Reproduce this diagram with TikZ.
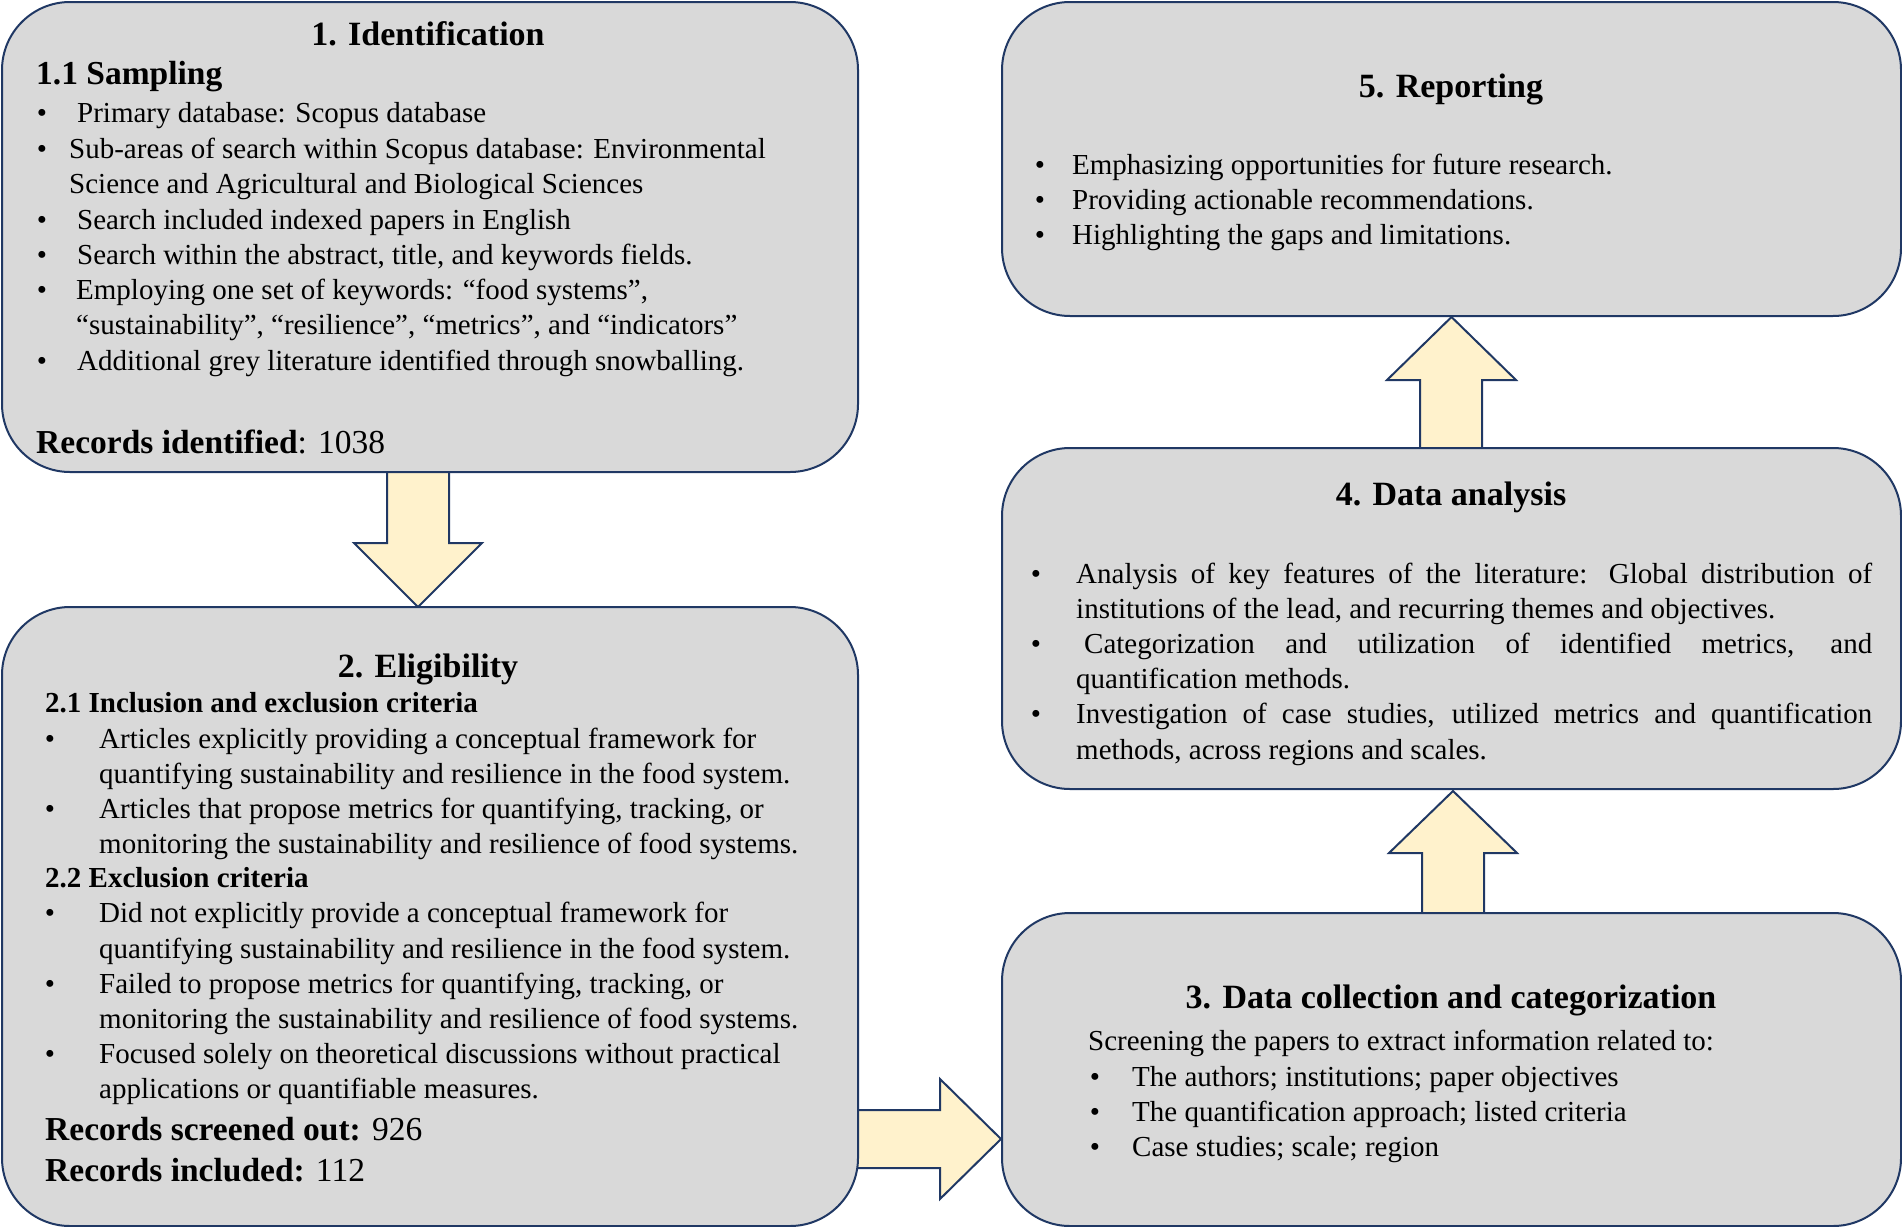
\documentclass[tikz,border=0pt]{standalone}
\usepackage{fontspec}
\setmainfont{Liberation Serif}
\usetikzlibrary{calc}
\pgfdeclarelayer{background}
\pgfsetlayers{background,main}
\definecolor{boxfill}{HTML}{D9D9D9}
\definecolor{boxline}{RGB}{32,56,100}
\definecolor{arrfill}{HTML}{FFF2CC}
\tikzset{
 box/.style={draw=boxline, line width=2pt, fill=boxfill, rounded corners=68pt, anchor=north west, inner sep=0},
 blk/.style={draw=boxline, line width=2pt, fill=arrfill, line join=miter},
 txt/.style={anchor=base west, inner sep=0, font=\fontsize{29}{35}\selectfont},
 bul/.style={anchor=base, inner sep=0, font=\fontsize{29}{35}\selectfont},
 ttl/.style={anchor=base, inner sep=0, font=\fontsize{34}{40}\selectfont\bfseries},
 subh/.style={anchor=base west, inner sep=0, font=\fontsize{29}{35}\selectfont\bfseries},
 rec/.style={anchor=base west, inner sep=0, font=\fontsize{33.5}{40}\selectfont},
}
\newcommand\txtline[4]{\node[txt] (#1) at (#2,#3) {#4};}
\newcommand\bulpt[3]{\node[bul] (#1) at (#2,#3) {•};}
\begin{document}
\begin{tikzpicture}[x=1pt,y=-1pt]
\useasboundingbox (0,0) rectangle (1902,1226);
% boxes
\node[box, minimum width=856, minimum height=470] (b1) at (1,1) {};
\node[box, minimum width=856, minimum height=619] (b2) at (1,606) {};
\node[box, minimum width=899, minimum height=314] (b5) at (1001,1) {};
\node[box, minimum width=899, minimum height=341] (b4) at (1001,447) {};
\node[box, minimum width=899, minimum height=313] (b3) at (1001,912) {};
% block arrows
\begin{pgfonlayer}{background}
\begin{scope}[shift={(b1.south)}]
\draw[blk] (-43,-12) -- (19,-12) -- (19,70) -- (52,70) -- (-12,134) -- (-76,70) -- (-43,70) -- cycle;
\end{scope}
\begin{scope}[shift={(b3.west)}]
\draw[blk] (-170,40.5) -- (-61,40.5) -- (-61,9.5) -- (0,69.5) -- (-61,129.5) -- (-61,98.5) -- (-170,98.5) -- cycle;
\end{scope}
\begin{scope}[shift={(b4.south)}]
\draw[blk] (-29.5,135) -- (-29.5,63) -- (-62.5,63) -- (1.5,1) -- (65.5,63) -- (32.5,63) -- (32.5,135) -- cycle;
\end{scope}
\begin{scope}[shift={(b5.south)}]
\draw[blk] (-31.5,142) -- (-31.5,63) -- (-64.5,63) -- (0,0) -- (64.5,63) -- (30.5,63) -- (30.5,142) -- cycle;
\end{scope}
\end{pgfonlayer}
\begin{scope}[yshift=-1.8pt]
% box 1 text
\node[ttl] (t1) at (428,44) {1. Identification};
\node[anchor=base west, inner sep=0, font=\fontsize{33.5}{40}\selectfont\bfseries] (s11) at (36,83) {1.1 Sampling};
\bulpt{p11}{42}{121}\txtline{l11}{77}{121}{Primary database: Scopus database}
\bulpt{p12}{42}{157}\txtline{l12}{69}{157}{Sub-areas of search within Scopus database: Environmental}
\txtline{l13}{69}{192}{Science and Agricultural and Biological Sciences}
\bulpt{p14}{42}{228}\txtline{l14}{77}{228}{Search included indexed papers in English}
\bulpt{p15}{42}{263}\txtline{l15}{77}{263}{Search within the abstract, title, and keywords fields.}
\bulpt{p16}{42}{298}\txtline{l16}{76}{298}{Employing one set of keywords: “food systems”,}
\txtline{l17}{76}{333}{“sustainability”, “resilience”, “metrics”, and “indicators”}
\bulpt{p18}{42}{369}\txtline{l18}{77}{369}{Additional grey literature identified through snowballing.}
\node[rec] (r1) at (36,452) {\textbf{Records identified}: 1038};
% box 2 text
\node[ttl] (t2) at (428,676) {2. Eligibility};
\node[subh] (s21) at (45,711) {2.1 Inclusion and exclusion criteria};
\bulpt{p21}{50}{747}\txtline{l21}{99}{747}{Articles explicitly providing a conceptual framework for}
\txtline{l22}{99}{782}{quantifying sustainability and resilience in the food system.}
\bulpt{p23}{50}{817}\txtline{l23}{99}{817}{Articles that propose metrics for quantifying, tracking, or}
\txtline{l24}{99}{852}{monitoring the sustainability and resilience of food systems.}
\node[subh] (s22) at (45,886) {2.2 Exclusion criteria};
\bulpt{p25}{50}{921}\txtline{l25}{99}{921}{Did not explicitly provide a conceptual framework for}
\txtline{l26}{99}{957}{quantifying sustainability and resilience in the food system.}
\bulpt{p27}{50}{992}\txtline{l27}{99}{992}{Failed to propose metrics for quantifying, tracking, or}
\txtline{l28}{99}{1027}{monitoring the sustainability and resilience of food systems.}
\bulpt{p29}{50}{1062}\txtline{l29}{99}{1062}{Focused solely on theoretical discussions without practical}
\txtline{l2a}{99}{1097}{applications or quantifiable measures.}
\node[rec] (r2) at (45,1139) {\textbf{Records screened out:} 926};
\node[rec] (r3) at (45,1180) {\textbf{Records included:} 112};
% box 5 text
\node[ttl] (t5) at (1451,96) {5. Reporting};
\bulpt{p51}{1040}{173}\txtline{l51}{1072}{173}{Emphasizing opportunities for future research.}
\bulpt{p52}{1040}{208}\txtline{l52}{1072}{208}{Providing actionable recommendations.}
\bulpt{p53}{1040}{243}\txtline{l53}{1072}{243}{Highlighting the gaps and limitations.}
% box 4 text
\node[ttl] (t4) at (1451,504) {4. Data analysis};
\bulpt{p41}{1036}{582}\txtline{l41}{1076}{582}{\makebox[796pt][s]{Analysis of key features of the literature: Global distribution of}}
\txtline{l42}{1076}{617}{institutions of the lead, and recurring themes and objectives.}
\bulpt{p43}{1036}{652}\txtline{l43}{1084}{652}{\makebox[788pt][s]{Categorization and utilization of identified metrics, and}}
\txtline{l44}{1076}{687}{quantification methods.}
\bulpt{p45}{1036}{722}\txtline{l45}{1076}{722}{\makebox[796pt][s]{Investigation of case studies, utilized metrics and quantification}}
\txtline{l46}{1076}{758}{methods, across regions and scales.}
% box 3 text
\node[ttl] (t3) at (1451,1007) {3. Data collection and categorization};
\txtline{l30}{1088}{1049}{Screening the papers to extract information related to:}
\bulpt{p31}{1095}{1085}\txtline{l31}{1132}{1085}{The authors; institutions; paper objectives}
\bulpt{p32}{1095}{1120}\txtline{l32}{1132}{1120}{The quantification approach; listed criteria}
\bulpt{p33}{1095}{1155}\txtline{l33}{1132}{1155}{Case studies; scale; region}
\end{scope}
\end{tikzpicture}
\end{document}
